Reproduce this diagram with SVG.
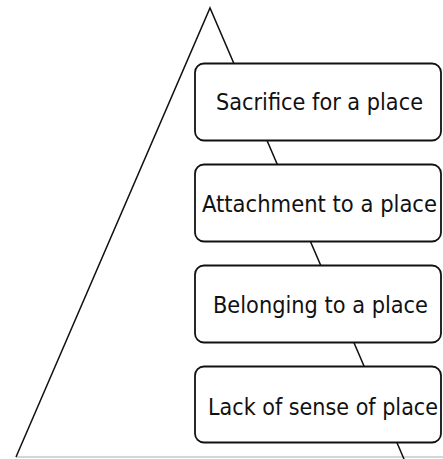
<svg xmlns="http://www.w3.org/2000/svg" width="443" height="459" viewBox="0 0 443 459">
<style>
.box{fill:#fff;stroke:#111;stroke-width:1.8}
.lbl{font-family:"DejaVu Sans Condensed","Open Sans",sans-serif;font-size:23px;fill:#111;text-anchor:middle}
.edge{stroke:#111;stroke-width:1.5;fill:none}
</style>
<rect width="443" height="459" fill="#fff"/>
<g id="connectors">
<line x1="16" y1="457" x2="443" y2="457" stroke="#c8c8c8" stroke-width="1.5"/>
<polyline class="edge" points="16,457 210,8 404,459"/>
</g>
<g id="node-sacrifice">
<rect class="box" x="195" y="63.5" width="246" height="77" rx="9"/>
<text class="lbl" x="319.5" y="110" textLength="207" lengthAdjust="spacingAndGlyphs">Sacrifice for a place</text>
</g>
<g id="node-attachment">
<rect class="box" x="195" y="164.5" width="246" height="77" rx="9"/>
<text class="lbl" x="319.5" y="212" textLength="235" lengthAdjust="spacingAndGlyphs">Attachment to a place</text>
</g>
<g id="node-belonging">
<rect class="box" x="195" y="265.5" width="246" height="77" rx="9"/>
<text class="lbl" x="320.5" y="313" textLength="215" lengthAdjust="spacingAndGlyphs">Belonging to a place</text>
</g>
<g id="node-lack">
<rect class="box" x="195" y="366.5" width="246" height="76" rx="9"/>
<text class="lbl" x="323" y="415" textLength="230" lengthAdjust="spacingAndGlyphs">Lack of sense of place</text>
</g>
</svg>
